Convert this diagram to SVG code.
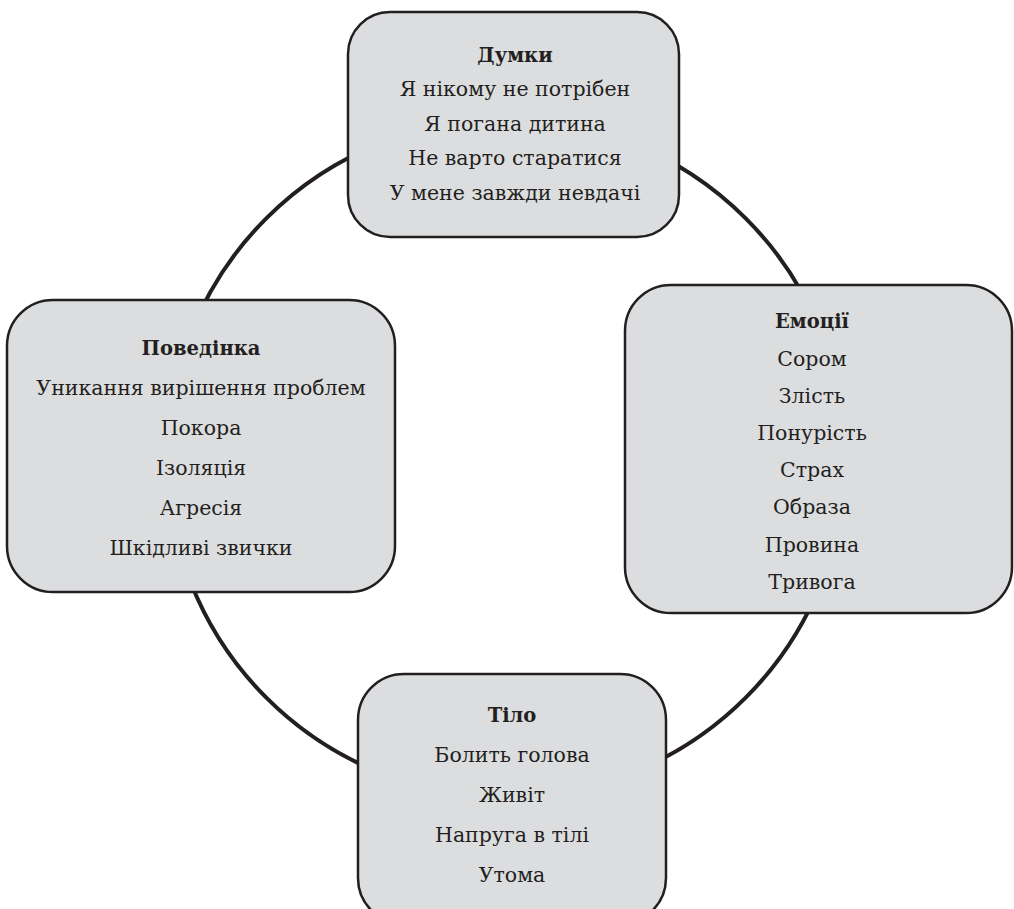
<svg xmlns="http://www.w3.org/2000/svg" width="1014" height="909" viewBox="0 0 1014 909">
<style>
.box{fill:#dcdddf;stroke:#231f20;stroke-width:2.5}
.t{font-family:"DejaVu Serif","Liberation Serif",serif;font-size:20.5px;fill:#231f20;text-anchor:middle}
.h{font-weight:bold;font-size:19.5px}
</style>
<rect width="1014" height="909" fill="#ffffff"/>
<g id="connectors">
<circle cx="506" cy="458" r="339" fill="none" stroke="#231f20" stroke-width="4"/>
</g>
<g id="thoughts">
<rect class="box" x="348" y="12" width="331" height="225" rx="42"/>
<text class="t h" x="515" y="62">Думки</text>
<text class="t" x="515" y="96">Я нікому не потрібен</text>
<text class="t" x="515" y="131">Я погана дитина</text>
<text class="t" x="515" y="165">Не варто старатися</text>
<text class="t" x="515" y="200">У мене завжди невдачі</text>
</g>
<g id="behavior">
<rect class="box" x="7" y="300" width="388" height="292" rx="46"/>
<text class="t h" x="201" y="355">Поведінка</text>
<text class="t" x="201" y="395">Уникання вирішення проблем</text>
<text class="t" x="201" y="435">Покора</text>
<text class="t" x="201" y="475">Ізоляція</text>
<text class="t" x="201" y="515">Агресія</text>
<text class="t" x="201" y="555">Шкідливі звички</text>
</g>
<g id="emotions">
<rect class="box" x="625" y="285" width="387" height="328" rx="46"/>
<text class="t h" x="812" y="328">Емоції</text>
<text class="t" x="812" y="366">Сором</text>
<text class="t" x="812" y="403">Злість</text>
<text class="t" x="812" y="440">Понурість</text>
<text class="t" x="812" y="477">Страх</text>
<text class="t" x="812" y="514">Образа</text>
<text class="t" x="812" y="552">Провина</text>
<text class="t" x="812" y="589">Тривога</text>
</g>
<g id="body">
<rect class="box" x="358" y="674" width="308" height="250" rx="46"/>
<text class="t h" x="512" y="722">Тіло</text>
<text class="t" x="512" y="762">Болить голова</text>
<text class="t" x="512" y="802">Живіт</text>
<text class="t" x="512" y="842">Напруга в тілі</text>
<text class="t" x="512" y="882">Утома</text>
</g>
</svg>
